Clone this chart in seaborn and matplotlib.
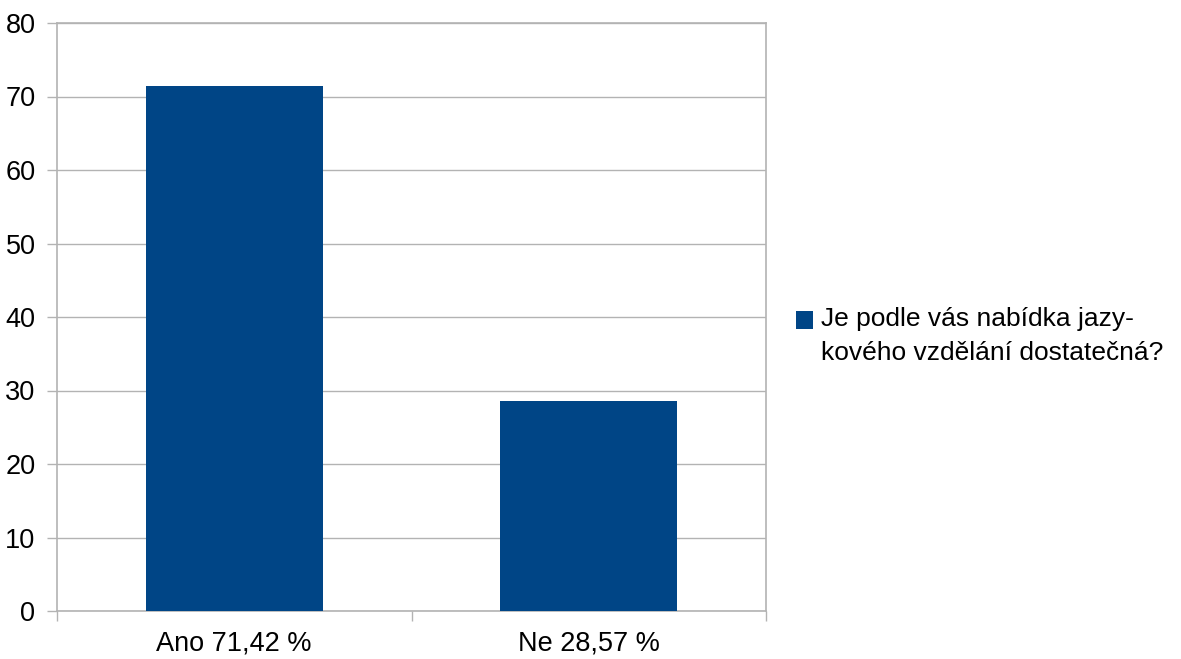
import matplotlib
matplotlib.use("Agg")
import matplotlib.pyplot as plt
import seaborn as sns
import pandas as pd

# Data
categories = ["Ano 71,42 %", "Ne 28,57 %"]
values = [71.42, 28.57]
series_name = "Je podle vás nabídka jazy-\nkového vzdělání dostatečná?"
yticks = [0, 10, 20, 30, 40, 50, 60, 70, 80]

data = pd.DataFrame({"category": categories, "value": values, "series": series_name})

sns.set_style("white")
plt.rcParams["font.family"] = ["Liberation Sans", "DejaVu Sans"]
plt.rcParams["text.color"] = "black"
plt.rcParams["xtick.color"] = "black"
plt.rcParams["ytick.color"] = "black"

fig = plt.figure(figsize=(11.81, 6.59), dpi=100)
ax = fig.add_axes([57 / 1181, 1 - 611 / 659, (766 - 57) / 1181, (611 - 23) / 659])

grid_color = "#b3b3b3"
sns.barplot(data=data, x="category", y="value", hue="series", palette=["#004586"],
            width=0.5, saturation=1, linewidth=0, ax=ax, zorder=3)

ax.set_ylim(0, 80)
ax.set_xlim(-0.5, 1.5)
ax.set_yticks(yticks)
ax.yaxis.grid(True, color=grid_color, linewidth=1, zorder=0)
ax.set_axisbelow(True)
ax.set_xlabel("")
ax.set_ylabel("")

for s in ax.spines.values():
    s.set_visible(True)
    s.set_color(grid_color)
    s.set_linewidth(1.2)

ax.tick_params(axis="y", length=7.5, width=1, color=grid_color, labelcolor="black",
               labelsize=19.5, pad=8, left=True)
ax.tick_params(axis="x", which="major", length=0, labelsize=19.5, labelcolor="black", pad=14)
ax.set_xticks([-0.5, 0.5, 1.5], minor=True)
ax.tick_params(axis="x", which="minor", length=7.5, width=1, color=grid_color, bottom=True)

leg = ax.legend(loc="center left", bbox_to_anchor=(1.027, 0.468), frameon=False,
                fontsize=19, handlelength=0.65, handleheight=0.65, handletextpad=0.3,
                borderaxespad=0)
for t in leg.get_texts():
    t.set_linespacing(1.5)
    t.set_color("black")
# put the square next to the first line, as in the original
for h in leg.legend_handles:
    h.set_y(h.get_y() + 11.5)

fig.savefig("out.png", dpi=100)
